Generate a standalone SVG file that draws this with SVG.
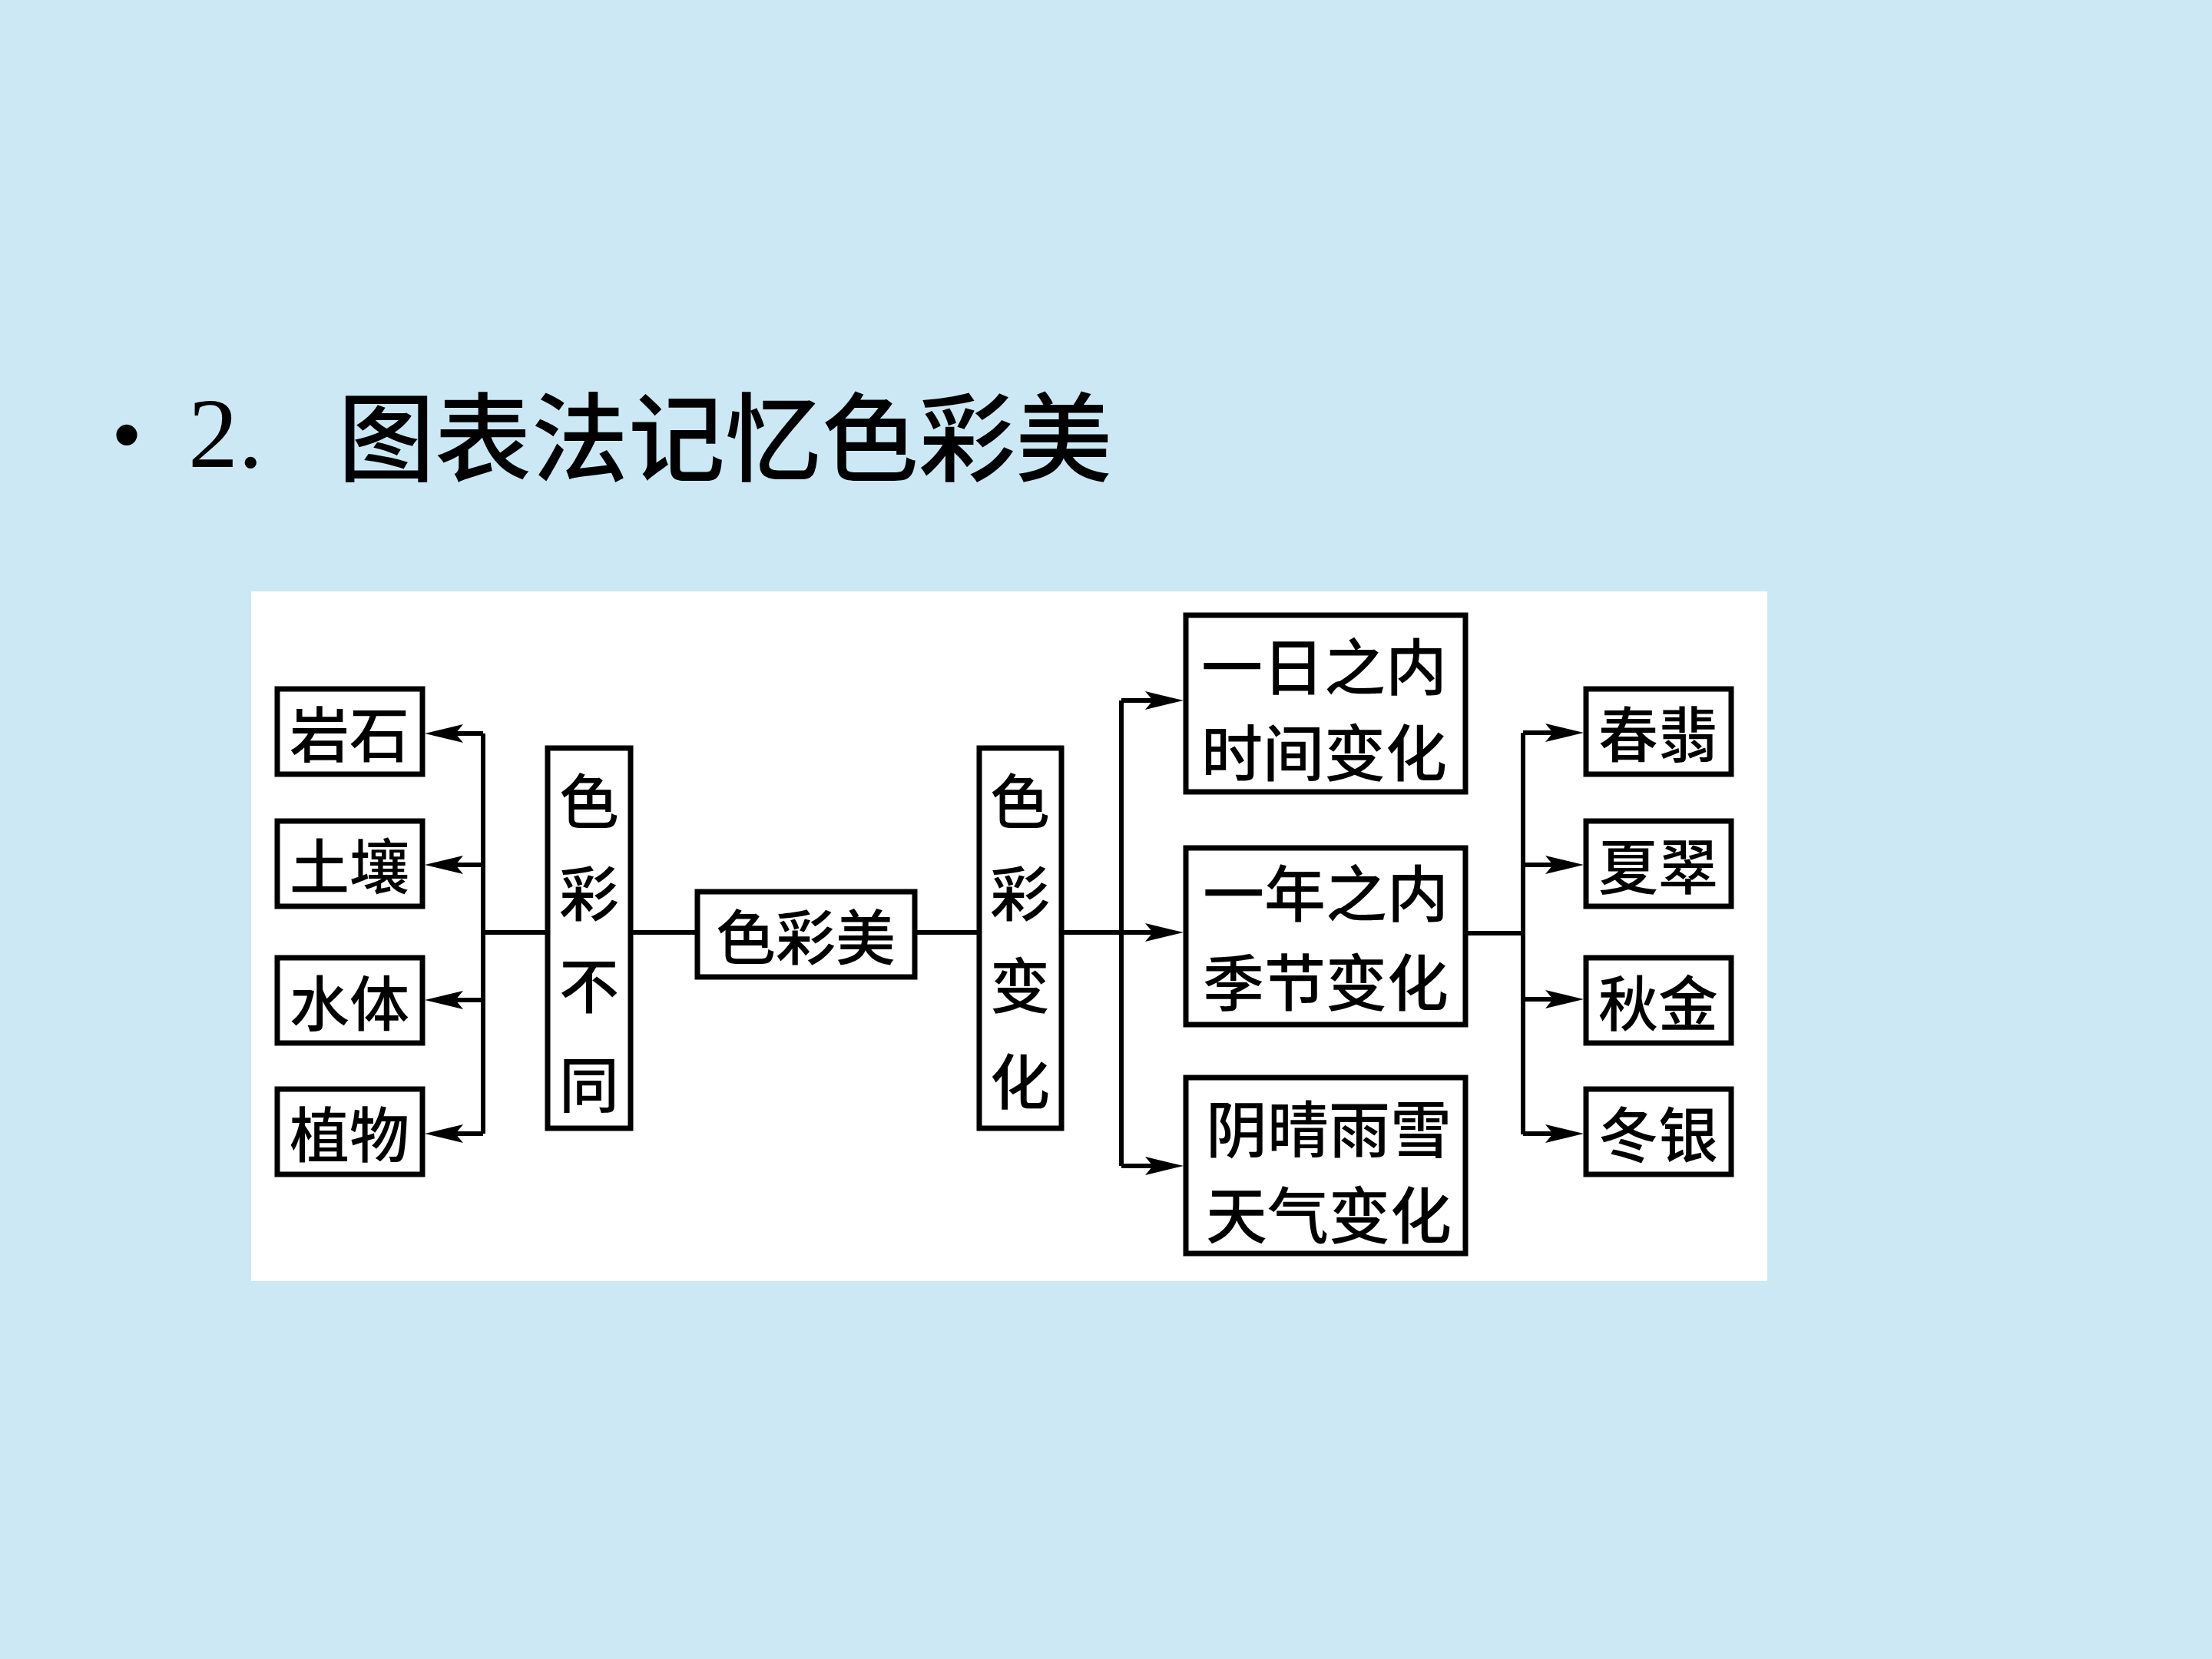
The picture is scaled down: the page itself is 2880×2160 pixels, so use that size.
<svg xmlns="http://www.w3.org/2000/svg" width="2880" height="2160" viewBox="0 0 2880 2160">
<style>
.box{fill:#fff;stroke:#000;stroke-width:7}
.ln{fill:none;stroke:#000;stroke-width:6}
.t{font-family:"Noto Sans CJK SC","Noto Sans CJK TC",sans-serif;font-size:78px;font-weight:500;fill:#000;text-anchor:middle;dominant-baseline:central}
.tb{font-family:"Noto Sans CJK SC","Noto Sans CJK TC",sans-serif;font-size:80px;font-weight:500;fill:#000;text-anchor:middle;dominant-baseline:central}
</style>
<defs>
<marker id="ah" markerUnits="userSpaceOnUse" markerWidth="56" markerHeight="28" refX="18" refY="12" orient="auto" overflow="visible">
<path d="M50,12 L0,0 L10,12 L0,24 Z" fill="#000"/>
</marker>
</defs>
<rect width="2880" height="2160" fill="#CCE8F4"/>
<g id="title">
<text x="165" y="600" font-family="Liberation Sans,sans-serif" font-size="100" text-anchor="middle" fill="#000">•</text>
<text x="245" y="608" font-family="Liberation Serif,serif" font-size="130" fill="#000">2.</text>
<text x="440" y="562" font-family="'Noto Sans CJK SC','Noto Sans CJK TC',sans-serif" font-size="126" font-weight="500" dominant-baseline="central" fill="#000">图表法记忆色彩美</text>
</g>
<rect id="panel" x="327" y="770" width="1974" height="898" fill="#fff"/>
<g id="connectors">
<path class="ln" d="M629,955 V1476"/>
<path class="ln" marker-end="url(#ah)" d="M629,955 H585"/>
<path class="ln" marker-end="url(#ah)" d="M629,1126 H585"/>
<path class="ln" marker-end="url(#ah)" d="M629,1302 H585"/>
<path class="ln" marker-end="url(#ah)" d="M629,1476 H585"/>
<path class="ln" d="M629,1214 H713"/>
<path class="ln" d="M821,1214 H908"/>
<path class="ln" d="M1191,1214 H1275"/>
<path class="ln" d="M1382,1214 H1460"/>
<path class="ln" d="M1460,912 V1518"/>
<path class="ln" marker-end="url(#ah)" d="M1460,912 H1509"/>
<path class="ln" marker-end="url(#ah)" d="M1460,1214 H1509"/>
<path class="ln" marker-end="url(#ah)" d="M1460,1518 H1509"/>
<path class="ln" d="M1908,1215 H1983"/>
<path class="ln" d="M1983,954 V1477"/>
<path class="ln" marker-end="url(#ah)" d="M1983,954 H2030"/>
<path class="ln" marker-end="url(#ah)" d="M1983,1126 H2030"/>
<path class="ln" marker-end="url(#ah)" d="M1983,1301 H2030"/>
<path class="ln" marker-end="url(#ah)" d="M1983,1476 H2030"/>
</g>
<g id="n-yanshi"><rect class="box" x="361" y="897" width="189" height="111"/><text class="t" x="455" y="952">岩石</text></g>
<g id="n-turang"><rect class="box" x="361" y="1069" width="189" height="111"/><text class="t" x="455" y="1124">土壤</text></g>
<g id="n-shuiti"><rect class="box" x="361" y="1247" width="189" height="111"/><text class="t" x="455" y="1302">水体</text></g>
<g id="n-zhiwu"><rect class="box" x="361" y="1418" width="189" height="111"/><text class="t" x="455" y="1473">植物</text></g>
<g id="n-sebubutong"><rect class="box" x="713" y="974" width="108" height="495"/>
<text class="t" x="767" y="1039">色</text><text class="t" x="767" y="1159">彩</text><text class="t" x="767" y="1279">不</text><text class="t" x="767" y="1408">同</text></g>
<g id="n-secaimei"><rect class="box" x="908" y="1161" width="283" height="111"/><text class="t" x="1049" y="1216">色彩美</text></g>
<g id="n-secaibianhua"><rect class="box" x="1275" y="974" width="107" height="495"/>
<text class="t" x="1328" y="1039">色</text><text class="t" x="1328" y="1159">彩</text><text class="t" x="1328" y="1279">变</text><text class="t" x="1328" y="1404">化</text></g>
<g id="n-yiri"><rect class="box" x="1544" y="801" width="364" height="230"/><text class="tb" x="1724" y="863">一日之内</text><text class="tb" x="1724" y="975">时间变化</text></g>
<g id="n-yinian"><rect class="box" x="1544" y="1104" width="364" height="230"/><text class="tb" x="1726" y="1158">一年之内</text><text class="tb" x="1726" y="1274">季节变化</text></g>
<g id="n-yinqing"><rect class="box" x="1544" y="1403" width="364" height="229"/><text class="tb" x="1730" y="1465">阴晴雨雪</text><text class="tb" x="1730" y="1577">天气变化</text></g>
<g id="n-chunfei"><rect class="box" x="2065" y="897" width="189" height="111"/><text class="t" x="2159" y="952">春翡</text></g>
<g id="n-xiacui"><rect class="box" x="2065" y="1069" width="189" height="111"/><text class="t" x="2159" y="1124">夏翠</text></g>
<g id="n-qiujin"><rect class="box" x="2065" y="1247" width="189" height="111"/><text class="t" x="2159" y="1302">秋金</text></g>
<g id="n-dongyin"><rect class="box" x="2065" y="1418" width="189" height="111"/><text class="t" x="2159" y="1473">冬银</text></g>
</svg>
